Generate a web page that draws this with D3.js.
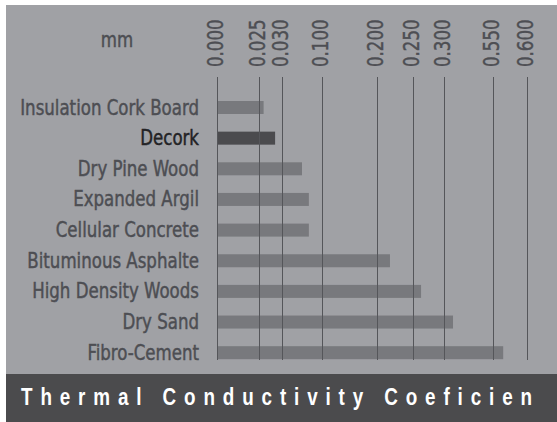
<!DOCTYPE html>
<html>
<head>
<meta charset="utf-8">
<script src="https://cdn.jsdelivr.net/npm/d3@7"></script>
<style>
  body { margin: 0; background: #fff; }
  svg { display: block; }
  .lbl { font-family: "DejaVu Sans Condensed", "DejaVu Sans", sans-serif; font-size: 21px; fill: #4d4e53; stroke: #4d4e53; stroke-width: 0.45px; }
  .title { font-family: "Liberation Sans", Arial, sans-serif; font-weight: bold; font-size: 23px; fill: #fff; }
</style>
</head>
<body>
<svg width="557" height="422"></svg>
<script>
// chart data
var materials = ['Insulation Cork Board', 'Decork', 'Dry Pine Wood', 'Expanded Argil', 'Cellular Concrete',
    'Bituminous Asphalte', 'High Density Woods', 'Dry Sand', 'Fibro-Cement'];
var conductivity = [0.026, 0.0285, 0.065, 0.077, 0.077, 0.218, 0.263, 0.346, 0.565];
var tickValues = [0.000, 0.025, 0.030, 0.100, 0.200, 0.250, 0.300, 0.550, 0.600];
var highlight = 'Decork';
var unitLabel = 'mm';
var titleText = 'Thermal Conductivity Coeficien';

var svg = d3.select('svg');
var W = +svg.attr('width'), H = +svg.attr('height');

var panel = {x: 6, y: 5, titleTop: 374};
var plot = {t: 77, b: 360};
var squeeze = 'scale(0.88,1)'; // narrow the label font a bit

// background panels
svg.append('rect').attr('x', panel.x).attr('y', panel.y)
    .attr('width', W - panel.x).attr('height', panel.titleTop - panel.y)
    .attr('fill', '#a0a1a5');
svg.append('rect').attr('x', panel.x).attr('y', panel.titleTop)
    .attr('width', W - panel.x).attr('height', H - panel.titleTop)
    .attr('fill', '#4b4b4d');

// the ticks are not evenly spaced in the original, so a piecewise scale
var xScale = d3.scaleLinear()
    .domain(tickValues)
    .range([217, 259, 282, 322, 377, 413, 444, 493, 527]);

var yScale = d3.scalePoint()
    .domain(materials)
    .range([107.5, 352.7]);

var barH = 13;

var data = materials.map(function(m, i) { return {name: m, value: conductivity[i]}; });

// bars
svg.selectAll('.bar')
    .data(data)
    .enter()
    .append('rect')
    .attr('class', 'bar')
    .attr('x', xScale(0))
    .attr('y', d => yScale(d.name) - barH / 2)
    .attr('width', d => xScale(d.value) - xScale(0))
    .attr('height', barH)
    .attr('fill', d => d.name === highlight ? '#4b4b4e' : '#78797d');

// grid lines
svg.selectAll('.grid')
    .data(tickValues)
    .enter()
    .append('line')
    .attr('class', 'grid')
    .attr('x1', d => Math.round(xScale(d)) + 0.5)
    .attr('x2', d => Math.round(xScale(d)) + 0.5)
    .attr('y1', plot.t)
    .attr('y2', plot.b)
    .attr('stroke', '#55565a')
    .attr('stroke-width', 1);

// tick labels, rotated
svg.selectAll('.tick-label')
    .data(tickValues)
    .enter()
    .append('text')
    .attr('class', 'lbl tick-label')
    .attr('transform', d => 'translate(' + (xScale(d) + 6) + ',67) rotate(-90) ' + squeeze)
    .text(d => d3.format('.3f')(d));

// category labels
svg.selectAll('.cat')
    .data(data)
    .enter()
    .append('text')
    .attr('class', 'lbl cat')
    .attr('transform', d => 'translate(199,' + (yScale(d.name) + 7) + ') ' + squeeze)
    .attr('text-anchor', 'end')
    .style('fill', d => d.name === highlight ? '#232325' : null)
    .style('stroke', d => d.name === highlight ? '#232325' : null)
    .text(d => d.name);

svg.append('text')
    .attr('class', 'lbl')
    .attr('transform', 'translate(117,47) ' + squeeze)
    .attr('text-anchor', 'middle')
    .text(unitLabel);

svg.append('text')
    .attr('class', 'title')
    .attr('transform', 'translate(21,405) scale(0.82,1)')
    .style('letter-spacing', '9.6px')
    .text(titleText);
</script>
</body>
</html>
